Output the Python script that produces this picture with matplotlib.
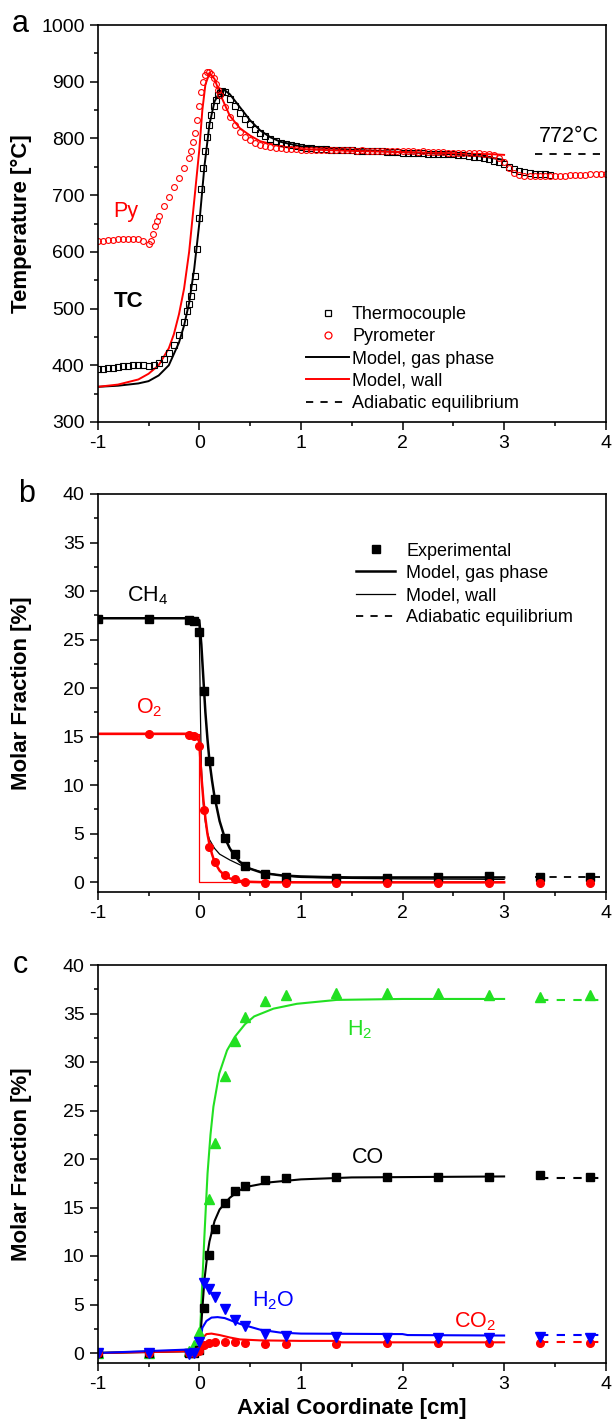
import matplotlib.pyplot as plt
from matplotlib.lines import Line2D
from matplotlib.ticker import MultipleLocator

plt.rcParams['font.family'] = ['Liberation Sans', 'DejaVu Sans']
plt.rcParams['mathtext.fontset'] = 'custom'
plt.rcParams['mathtext.rm'] = 'Liberation Sans'
plt.rcParams['mathtext.default'] = 'regular'
plt.rcParams['axes.unicode_minus'] = False

RED = '#ff0000'
GREEN = '#22e022'
BLUE = '#0000ff'

# ---- (a) temperature profiles ----
tc_x = [-1.00, -0.95, -0.90, -0.85, -0.80, -0.75, -0.70, -0.65, -0.60, -0.55, -0.50, -0.45,
        -0.40, -0.35, -0.30, -0.25, -0.20, -0.15, -0.12, -0.10, -0.08, -0.06, -0.04, -0.02,
        0.00, 0.02, 0.04, 0.06, 0.08, 0.10, 0.12, 0.14, 0.16, 0.18, 0.20, 0.22, 0.25, 0.30,
        0.35, 0.40, 0.45, 0.50, 0.55, 0.60, 0.65, 0.70, 0.75, 0.80, 0.85, 0.90, 0.95, 1.00,
        1.05, 1.10, 1.15, 1.20, 1.25, 1.30, 1.35, 1.40, 1.45, 1.50, 1.55, 1.60, 1.65, 1.70,
        1.75, 1.80, 1.85, 1.90, 1.95, 2.00, 2.05, 2.10, 2.15, 2.20, 2.25, 2.30, 2.35, 2.40,
        2.45, 2.50, 2.55, 2.60, 2.65, 2.70, 2.75, 2.80, 2.85, 2.90, 2.95, 3.00, 3.05, 3.10,
        3.15, 3.20, 3.25, 3.30, 3.35, 3.40, 3.45]
tc_y = [393, 394, 395, 396, 397, 398, 399, 400, 401, 400, 399, 400,
        404, 411, 421, 435, 453, 477, 495, 508, 522, 538, 558, 605,
        660, 710, 748, 778, 802, 823, 842, 857, 868, 876, 880, 883, 882, 870,
        857, 845, 834, 825, 817, 810, 804, 799, 795, 792, 790, 788, 786, 785,
        784, 783, 782, 781, 781, 780, 780, 779, 779, 779, 778, 778, 778, 777,
        777, 777, 776, 776, 776, 775, 775, 775, 774, 774, 773, 773, 773, 772,
        772, 772, 771, 770, 769, 768, 767, 765, 763, 761, 758, 755, 750, 746,
        743, 741, 739, 738, 737, 737, 736]

py_x = [-1.00, -0.95, -0.90, -0.85, -0.80, -0.75, -0.70, -0.65, -0.60, -0.55, -0.50, -0.48,
        -0.46, -0.44, -0.42, -0.40, -0.35, -0.30, -0.25, -0.20, -0.15, -0.10, -0.08, -0.06,
        -0.04, -0.02, 0.00, 0.02, 0.04, 0.06, 0.08, 0.10, 0.12, 0.14, 0.16, 0.18, 0.20, 0.25,
        0.30, 0.35, 0.40, 0.45, 0.50, 0.55, 0.60, 0.65, 0.70, 0.75, 0.80, 0.85, 0.90, 0.95,
        1.00, 1.05, 1.10, 1.15, 1.20, 1.25, 1.30, 1.35, 1.40, 1.45, 1.50, 1.55, 1.60, 1.65,
        1.70, 1.75, 1.80, 1.85, 1.90, 1.95, 2.00, 2.05, 2.10, 2.15, 2.20, 2.25, 2.30, 2.35,
        2.40, 2.45, 2.50, 2.55, 2.60, 2.65, 2.70, 2.75, 2.80, 2.85, 2.90, 2.95, 3.00, 3.05,
        3.10, 3.15, 3.20, 3.25, 3.30, 3.35, 3.40, 3.45, 3.50, 3.55, 3.60, 3.65, 3.70, 3.75,
        3.80, 3.85, 3.90, 3.95, 4.00]
py_y = [619, 620, 621, 621, 622, 622, 623, 623, 622, 619, 614, 619,
        632, 645, 655, 663, 680, 697, 714, 731, 748, 766, 778, 793,
        810, 833, 858, 882, 900, 911, 917, 918, 914, 906, 896, 886, 876, 856,
        838, 823, 812, 803, 797, 792, 789, 787, 785, 784, 783, 782, 781, 781,
        780, 780, 779, 780, 779, 779, 780, 779, 779, 780, 779, 778, 779, 778,
        778, 778, 777, 778, 777, 778, 777, 777, 777, 776, 777, 776, 776, 776,
        776, 775, 775, 775, 775, 774, 774, 774, 773, 772, 770, 766, 759, 748,
        739, 735, 733, 733, 733, 733, 733, 733, 733, 734, 734, 735, 735, 736,
        736, 737, 737, 738, 738]

gas_x = [-1.0, -0.8, -0.6, -0.5, -0.4, -0.3, -0.2, -0.15, -0.1, -0.05, 0.0, 0.05, 0.1,
         0.15, 0.2, 0.25, 0.3, 0.4, 0.5, 0.6, 0.7, 0.8, 1.0, 1.5, 2.0, 2.5, 2.8, 2.9, 3.0]
gas_y = [362, 364, 368, 372, 382, 400, 440, 470, 510, 570, 650, 750, 825,
         865, 882, 885, 878, 855, 832, 814, 802, 794, 786, 780, 776, 772, 768, 765, 762]

wall_x = [-1.0, -0.8, -0.6, -0.5, -0.4, -0.3, -0.25, -0.2, -0.15, -0.1, -0.05, 0.0, 0.03,
          0.06, 0.1, 0.15, 0.2, 0.3, 0.4, 0.5, 0.6, 0.8, 1.0, 1.5, 2.0, 2.5, 2.9, 3.0]
wall_y = [362, 366, 375, 385, 400, 430, 455, 490, 535, 600, 690, 780, 850,
          895, 915, 905, 880, 840, 818, 805, 795, 786, 781, 778, 776, 774, 772, 771]

t_eq_x = [3.3, 4.0]
t_eq = 772

# ---- (b) reactants ----
exp_x = [-1.0, -0.5, -0.1, -0.05, 0.0, 0.05, 0.1, 0.15, 0.25, 0.35, 0.45, 0.65, 0.85,
         1.35, 1.85, 2.35, 2.85, 3.35, 3.85]
ch4_exp = [27.1, 27.1, 27.0, 26.9, 25.8, 19.7, 12.5, 8.6, 4.6, 2.9, 1.66, 0.87, 0.56,
           0.45, 0.45, 0.56, 0.6, 0.55, 0.55]
o2_exp_x = exp_x[1:]
o2_exp = [15.3, 15.2, 15.1, 14.0, 7.4, 3.65, 2.07, 0.8, 0.35, 0.05, -0.05, -0.05,
          -0.05, -0.05, -0.05, -0.05, -0.05, -0.05]

ch4_gas_x = [-1.0, -0.05, 0.0, 0.02, 0.04, 0.06, 0.08, 0.1, 0.125, 0.15, 0.2, 0.25, 0.3,
             0.35, 0.4, 0.5, 0.6, 0.7, 0.8, 1.0, 1.2, 1.5, 2.0, 3.0]
ch4_gas = [27.2, 27.2, 27.0, 24.5, 21.0, 17.5, 14.8, 12.5, 10.5, 8.8, 6.3, 4.6, 3.5,
           2.7, 2.1, 1.4, 1.05, 0.85, 0.72, 0.6, 0.55, 0.5, 0.5, 0.5]
ch4_wall_x = [-1.0, -0.01, 0.0, 0.01, 0.02, 0.04, 0.06, 0.08, 0.1, 0.15, 0.2, 0.3, 0.4,
              0.5, 0.6, 0.8, 1.0, 1.5, 2.0, 3.0]
ch4_wall = [27.2, 27.2, 26.5, 18.0, 12.0, 8.0, 6.2, 5.1, 4.4, 3.5, 2.9, 2.3, 1.8,
            1.4, 1.1, 0.7, 0.5, 0.4, 0.35, 0.3]
o2_gas_x = [-1.0, -0.05, 0.0, 0.02, 0.04, 0.06, 0.08, 0.1, 0.125, 0.15, 0.2, 0.25, 0.3,
            0.4, 0.5, 0.6, 1.0, 3.0]
o2_gas = [15.3, 15.3, 14.5, 11.0, 8.5, 6.6, 5.0, 3.9, 2.9, 2.1, 1.2, 0.7, 0.4,
          0.15, 0.05, 0.02, 0.0, 0.0]
o2_wall_x = [-1.0, 0.0, 0.0, 3.0]
o2_wall = [15.3, 15.3, 0.0, 0.0]
ch4_eq = 0.5

# ---- (c) products ----
h2_exp_x = [-1.0, -0.5, -0.1, -0.05, 0.0, 0.1, 0.15, 0.25, 0.35, 0.45, 0.65, 0.85,
            1.35, 1.85, 2.35, 2.85, 3.35, 3.85]
h2_exp = [0.0, 0.0, 0.2, 0.8, 2.2, 15.9, 21.7, 28.6, 32.2, 34.6, 36.3, 36.9,
          37.1, 37.1, 37.1, 36.9, 36.7, 36.9]
co_exp = [0.0, 0.0, 0.0, 0.0, 0.3, 4.6, 10.1, 12.8, 15.5, 16.7, 17.2, 17.8, 18.0,
          18.1, 18.1, 18.1, 18.1, 18.3, 18.1]
h2o_exp = [0.0, 0.0, -0.15, -0.05, 1.1, 7.2, 6.6, 5.8, 4.5, 3.4, 2.8, 2.0, 1.8,
           1.6, 1.5, 1.5, 1.5, 1.6, 1.5]
co2_exp = [0.0, 0.0, 0.0, 0.0, 0.2, 0.8, 1.0, 1.1, 1.1, 1.1, 1.0, 0.95, 0.95,
           0.95, 1.0, 1.0, 1.0, 1.0, 1.0]

h2_mod_x = [-1.0, 0.0, 0.024, 0.05, 0.081, 0.11, 0.139, 0.196, 0.273, 0.35, 0.45, 0.54,
            0.73, 0.96, 1.35, 2.0, 3.0]
h2_mod = [0.0, 0.3, 6.0, 12.0, 18.5, 22.5, 25.4, 28.8, 31.2, 32.6, 33.9, 34.7,
          35.5, 36.0, 36.4, 36.5, 36.5]
co_mod_x = [-1.0, 0.0, 0.02, 0.05, 0.08, 0.1, 0.15, 0.2, 0.3, 0.4, 0.5, 0.7, 1.0, 1.5, 3.0]
co_mod = [0.0, 0.2, 3.0, 7.5, 10.2, 11.5, 13.6, 14.8, 16.0, 16.8, 17.2, 17.6, 17.9, 18.1, 18.2]
h2o_mod_x = [-1.0, 0.0, 0.03, 0.07, 0.12, 0.18, 0.25, 0.3, 0.4, 0.5, 0.6, 0.8, 1.0,
             2.0, 2.05, 3.0]
h2o_mod = [0.0, 0.4, 2.6, 3.3, 3.65, 3.7, 3.6, 3.4, 3.0, 2.7, 2.4, 2.1, 2.0,
           1.95, 1.85, 1.8]
co2_mod_x = [-1.0, 0.0, 0.03, 0.07, 0.12, 0.2, 0.3, 0.4, 0.6, 1.0, 1.35, 1.4, 3.0]
co2_mod = [0.0, 0.2, 1.5, 1.95, 2.0, 1.85, 1.6, 1.4, 1.3, 1.25, 1.25, 1.1, 1.1]
eq_x = [3.35, 4.0]
h2_eq, co_eq, h2o_eq, co2_eq = 36.4, 18.0, 1.9, 1.1


def style(ax, ylabel, ymajor, yminor):
    ax.set_xlim(-1, 4)
    ax.xaxis.set_major_locator(MultipleLocator(1))
    ax.xaxis.set_minor_locator(MultipleLocator(0.5))
    ax.yaxis.set_major_locator(MultipleLocator(ymajor))
    ax.yaxis.set_minor_locator(MultipleLocator(yminor))
    ax.tick_params(which='both', direction='out', top=False, right=False,
                   width=1.1, labelsize=14, pad=4)
    ax.tick_params(which='major', length=5.5)
    ax.tick_params(which='minor', length=3)
    for s in ax.spines.values():
        s.set_linewidth(1.2)
    ax.set_ylabel(ylabel, fontsize=16, fontweight='bold')
    ax.yaxis.set_label_coords(-0.13, 0.5)


fig = plt.figure(figsize=(6.13, 14.21), dpi=100)
L, W = 97.7 / 613, 508 / 613
ax_a = fig.add_axes([L, 1 - 422 / 1421, W, 397 / 1421])
ax_b = fig.add_axes([L, 1 - 892 / 1421, W, 398 / 1421])
ax_c = fig.add_axes([L, 1 - 1362.7 / 1421, W, 397.7 / 1421])

# (a)
ax_a.plot(gas_x, gas_y, color='black', lw=1.4)
ax_a.plot(wall_x, wall_y, color=RED, lw=1.4)
ax_a.plot(tc_x, tc_y, 's', ms=3.8, mfc='none', mec='black', mew=0.8)
ax_a.plot(py_x, py_y, 'o', ms=4.2, mfc='none', mec=RED, mew=0.8)
ax_a.hlines(t_eq, t_eq_x[0], t_eq_x[1], colors='black', linestyles=(0, (4, 4)), lw=1.3)
ax_a.set_ylim(300, 1000)
style(ax_a, 'Temperature [°C]', 100, 50)
ax_a.text(3.64, 803, f'{t_eq}°C', fontsize=15.5, ha='center', va='center')
ax_a.text(-0.72, 672, 'Py', color=RED, fontsize=15.5, ha='center', va='center')
ax_a.text(-0.70, 512, 'TC', color='black', fontsize=16, fontweight='bold',
          ha='center', va='center')
handles_a = [
    Line2D([], [], ls='none', marker='s', ms=4.5, mfc='none', mec='black', mew=0.9),
    Line2D([], [], ls='none', marker='o', ms=5, mfc='none', mec=RED, mew=0.9),
    Line2D([], [], color='black', lw=1.4),
    Line2D([], [], color=RED, lw=1.4),
    Line2D([], [], color='black', lw=1.3, ls=(0, (4, 4))),
]
ax_a.legend(handles_a, ['Thermocouple', 'Pyrometer', 'Model, gas phase', 'Model, wall',
                        'Adiabatic equilibrium'],
            loc='upper left', bbox_to_anchor=(0.41, 0.292), frameon=False, fontsize=13,
            handlelength=2.4, handletextpad=0.15, labelspacing=0.29, borderpad=0,
            borderaxespad=0)

# (b)
ax_b.plot(ch4_gas_x, ch4_gas, color='black', lw=1.8)
ax_b.plot(ch4_wall_x, ch4_wall, color='black', lw=0.9)
ax_b.plot(o2_gas_x, o2_gas, color=RED, lw=1.8)
ax_b.plot(o2_wall_x, o2_wall, color=RED, lw=0.9)
ax_b.hlines(ch4_eq, eq_x[0] - 0.05, eq_x[1], colors='black', linestyles=(0, (4, 4)), lw=1.3)
ax_b.plot(exp_x, ch4_exp, 's', ms=5.5, color='black')
ax_b.plot(o2_exp_x, o2_exp, 'o', ms=5.5, color=RED)
ax_b.set_ylim(-1, 40)
style(ax_b, 'Molar Fraction [%]', 5, 2.5)
ax_b.text(-0.51, 29.5, 'CH$_4$', fontsize=15.5, ha='center', va='center')
ax_b.text(-0.49, 18.0, 'O$_2$', color=RED, fontsize=15.5, ha='center', va='center')
handles_b = [
    Line2D([], [], ls='none', marker='s', ms=5.5, color='black'),
    Line2D([], [], color='black', lw=1.8),
    Line2D([], [], color='black', lw=0.9),
    Line2D([], [], color='black', lw=1.3, ls=(0, (4, 4))),
]
ax_b.legend(handles_b, ['Experimental', 'Model, gas phase', 'Model, wall',
                        'Adiabatic equilibrium'],
            loc='upper left', bbox_to_anchor=(0.508, 0.878), frameon=False, fontsize=13,
            handlelength=2.2, handletextpad=0.6, labelspacing=0.29, borderpad=0,
            borderaxespad=0)

# (c)
ax_c.plot(h2_mod_x, h2_mod, color=GREEN, lw=1.5)
ax_c.plot(co_mod_x, co_mod, color='black', lw=1.5)
ax_c.plot(co2_mod_x, co2_mod, color=RED, lw=1.5)
ax_c.plot(h2o_mod_x, h2o_mod, color=BLUE, lw=1.5)
for val, col in [(h2_eq, GREEN), (co_eq, 'black'), (co2_eq, RED), (h2o_eq, BLUE)]:
    ax_c.hlines(val, eq_x[0], eq_x[1], colors=col, linestyles=(0, (4, 4)), lw=1.5)
ax_c.plot(h2_exp_x, h2_exp, '^', ms=6.5, color=GREEN)
ax_c.plot(exp_x, co_exp, 's', ms=5.5, color='black')
ax_c.plot(exp_x, co2_exp, 'o', ms=5.5, color=RED)
ax_c.plot(exp_x, h2o_exp, 'v', ms=6.5, color=BLUE)
ax_c.set_ylim(-1, 40)
style(ax_c, 'Molar Fraction [%]', 5, 2.5)
ax_c.set_xlabel('Axial Coordinate [cm]', fontsize=16, fontweight='bold')
ax_c.xaxis.set_label_coords(0.5, -0.09)
ax_c.text(1.58, 33.3, 'H$_2$', color=GREEN, fontsize=15.5, ha='center', va='center')
ax_c.text(1.66, 20.2, 'CO', color='black', fontsize=15.5, ha='center', va='center')
ax_c.text(0.73, 5.4, 'H$_2$O', color=BLUE, fontsize=15.5, ha='center', va='center')
ax_c.text(2.71, 3.2, 'CO$_2$', color=RED, fontsize=15.5, ha='center', va='center')

# panel letters
fig.text(20.5 / 613, 1 - 24.5 / 1421, 'a', fontsize=22, ha='center', va='center')
fig.text(27 / 613, 1 - 493.5 / 1421, 'b', fontsize=22, ha='center', va='center')
fig.text(20.6 / 613, 1 - 965 / 1421, 'c', fontsize=22, ha='center', va='center')

fig.savefig('out.png', dpi=100)
